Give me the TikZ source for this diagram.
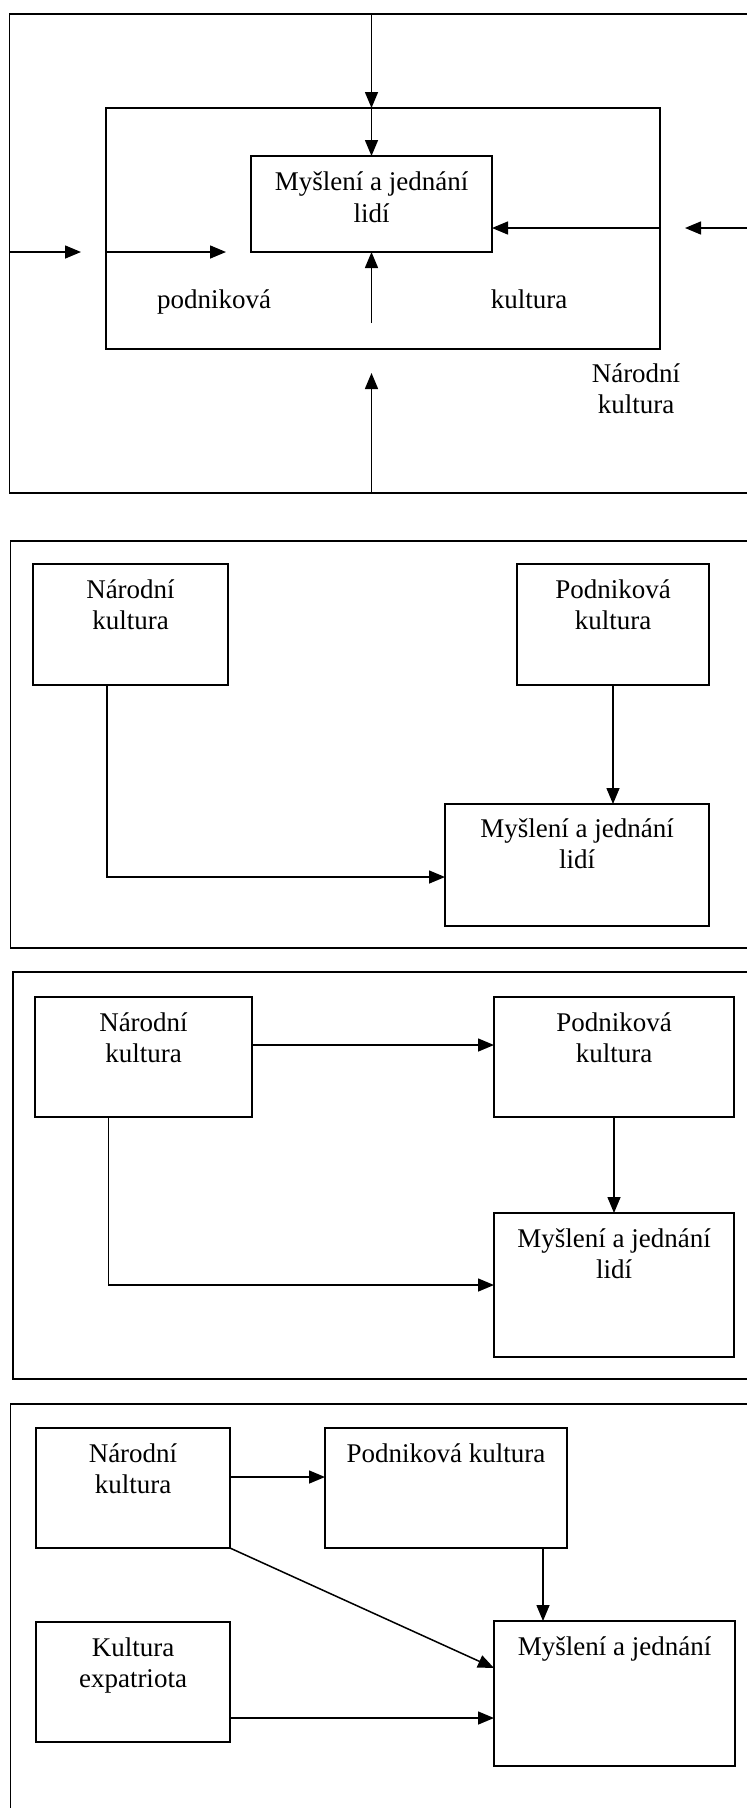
\documentclass[tikz,border=0pt]{standalone}
\usepackage{fontspec}
\setmainfont{Liberation Serif}
\usetikzlibrary{arrows.meta}
\newcommand\drawbox[5]{\node[bx, minimum width={#4-#2}, minimum height={#5-#3}] (#1) at ({(#2+#4)/2},{(#3+#5)/2}) {};}
\begin{document}
\begin{tikzpicture}[x=1pt,y=-1pt,
  bx/.style={draw, line width=1.8pt, inner sep=0pt, outer sep=0pt},
  tx/.style={anchor=base, inner sep=0pt, font=\fontsize{27}{31}\selectfont},
  arr/.style={line width=1.5pt, -{Triangle[length=16pt,width=13pt]}}]
\useasboundingbox (0,0) rectangle (747,1808);
\clip (0,0) rectangle (747,1808);
\fill[white] (0,0) rectangle (747,1808);

% ---------- Panel 1 ----------
\drawbox{fr1}{9.5}{14}{800}{493}
\drawbox{in1}{106}{108}{660}{349}
\drawbox{c1}{251}{156}{492}{252}
\node[tx] (t1a) at ([yshift=-34pt]c1.north) {Myšlení a jednání};
\node[tx] (t1b) at ([yshift=-66pt]c1.north) {lidí};
\node[tx] (pod1) at (214,308) {podniková};
\node[tx] (kul1) at (529,308) {kultura};
\node[tx] (nar1) at (636,382) {Národní};
\node[tx] (nar1b) at (636,413) {kultura};
\draw[arr] (c1.north |- fr1.north) -- (c1.north |- in1.north);
\draw[arr] (c1.north |- in1.north) -- (c1.north);
\coordinate (l1) at (81,252);
\coordinate (l2) at (226,252);
\draw[arr] (fr1.west |- l1) -- (l1);
\draw[arr] (in1.west |- l2) -- (l2);
\coordinate (r0) at (760,228);
\coordinate (r1) at (685,228);
\draw[arr] (r0) -- (r1);
\draw[arr] (in1.east |- r1) -- (c1.east |- r1);
\coordinate (b1) at (371.5,373);
\draw[arr] (b1 |- fr1.south) -- (b1);
\coordinate (b2) at (371.5,323);
\draw[arr] (b2) -- (c1.south);

% ---------- Panel 2 ----------
\drawbox{fr2}{10.5}{541}{800}{948}
\drawbox{n2}{33}{564}{228}{685}
\drawbox{p2}{517}{564}{709}{685}
\drawbox{m2}{445}{804}{709}{926}
\node[tx] (t2a) at ([yshift=-34pt]n2.north) {Národní};
\node[tx] (t2b) at ([yshift=-65pt]n2.north) {kultura};
\node[tx] (t2c) at ([yshift=-34pt]p2.north) {Podniková};
\node[tx] (t2d) at ([yshift=-65pt]p2.north) {kultura};
\node[tx] (t2e) at ([yshift=-33pt]m2.north) {Myšlení a jednání};
\node[tx] (t2f) at ([yshift=-64pt]m2.north) {lidí};
\coordinate (k2) at (107,877);
\draw[arr] (k2 |- n2.south) -- (k2) -- (k2 -| m2.west);
\draw[arr] (p2.south) -- (p2.south |- m2.north);

% ---------- Panel 3 ----------
\drawbox{fr3}{13}{972}{800}{1379}
\drawbox{n3}{35}{997}{252}{1117}
\drawbox{p3}{494}{997}{734}{1117}
\drawbox{m3}{494}{1213}{734}{1357}
\node[tx] (t3a) at ([yshift=-34pt]n3.north) {Národní};
\node[tx] (t3b) at ([yshift=-65pt]n3.north) {kultura};
\node[tx] (t3c) at ([yshift=-34pt]p3.north) {Podniková};
\node[tx] (t3d) at ([yshift=-65pt]p3.north) {kultura};
\node[tx] (t3e) at ([yshift=-34pt]m3.north) {Myšlení a jednání};
\node[tx] (t3f) at ([yshift=-65pt]m3.north) {lidí};
\coordinate (a3) at (252,1045);
\draw[arr] (n3.east |- a3) -- (p3.west |- a3);
\coordinate (k3) at (108.5,1285);
\draw[arr] (k3 |- n3.south) -- (k3) -- (k3 -| m3.west);
\draw[arr] (p3.south) -- (m3.north);

% ---------- Panel 4 ----------
\drawbox{fr4}{10.5}{1404}{800}{1860}
\drawbox{n4}{36}{1428}{230}{1548}
\drawbox{p4}{325}{1428}{567}{1548}
\drawbox{e4}{36}{1622}{230}{1742}
\drawbox{m4}{494}{1621}{735}{1766}
\node[tx] (t4a) at ([yshift=-34pt]n4.north) {Národní};
\node[tx] (t4b) at ([yshift=-65pt]n4.north) {kultura};
\node[tx] (t4c) at ([yshift=-34pt]p4.north) {Podniková kultura};
\node[tx] (t4d) at ([yshift=-34pt]e4.north) {Kultura};
\node[tx] (t4e) at ([yshift=-65pt]e4.north) {expatriota};
\node[tx] (t4f) at ([yshift=-34pt]m4.north) {Myšlení a jednání};
\coordinate (a4) at (230,1477);
\draw[arr] (n4.east |- a4) -- (p4.west |- a4);
\coordinate (d4) at (494,1668);
\draw[arr] (n4.south east) -- (d4 -| m4.west);
\coordinate (v4) at (543,1548);
\draw[arr] (v4 |- p4.south) -- (v4 |- m4.north);
\coordinate (h4) at (230,1718);
\draw[arr] (e4.east |- h4) -- (m4.west |- h4);
\end{tikzpicture}
\end{document}
